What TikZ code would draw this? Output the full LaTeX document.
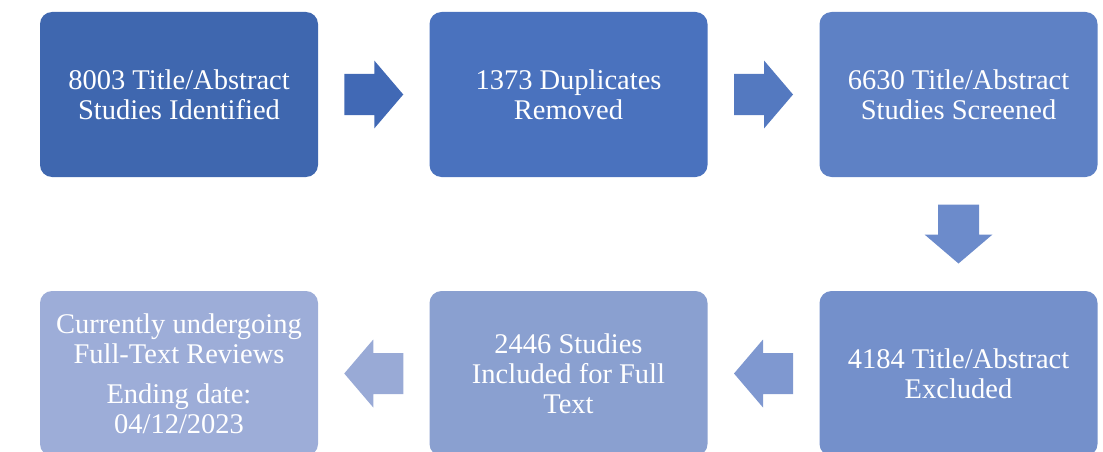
\documentclass[tikz,border=0pt]{standalone}
\usepackage{fontspec}
\setmainfont{Liberation Serif}
\usetikzlibrary{calc}
\definecolor{stepA}{HTML}{3F67AF}
\definecolor{stepB}{HTML}{4A72BE}
\definecolor{stepC}{HTML}{5E81C5}
\definecolor{stepD}{HTML}{7490CB}
\definecolor{stepE}{HTML}{8AA0D0}
\definecolor{stepF}{HTML}{9DADD8}
\definecolor{arrA}{HTML}{4169B5}
\definecolor{arrB}{HTML}{5479C0}
\definecolor{arrC}{HTML}{6C8BCB}
\definecolor{arrD}{HTML}{7F98D0}
\definecolor{arrE}{HTML}{99AAD6}

\begin{document}
\begin{tikzpicture}[x=1pt, y=-1pt,
    stepbox/.style={rectangle, rounded corners=12pt, minimum width=278pt, minimum height=165pt,
      text=white, align=center, inner sep=0pt, font=\fontsize{28.5}{30}\selectfont},
    blockarrow/.pic={
      \path[pic actions] (-29.5,-20.5) -- (0.5,-20.5) -- (0.5,-34) -- (29.5,0)
        -- (0.5,34) -- (0.5,20.5) -- (-29.5,20.5) -- cycle;
    }]
    \useasboundingbox (0,0) rectangle (1103,452);
    % top row
    \node[stepbox, fill=stepA] (ident) at (179, 94.5) {8003 Title/Abstract\\Studies Identified};
    \node[stepbox, fill=stepB] (dupl) at (568.5, 94.5) {1373 Duplicates\\Removed};
    \node[stepbox, fill=stepC] (screen) at (958.5, 94.5) {6630 Title/Abstract\\Studies Screened};
    % bottom row
    \node[stepbox, fill=stepD] (excl) at (958.5, 373.5) {4184 Title/Abstract\\Excluded};
    \node[stepbox, fill=stepE] (incl) at (568.5, 373.5) {2446 Studies\\Included for Full\\Text};
    \node[stepbox, fill=stepF] (review) at (179, 373.5) {Currently undergoing\\Full-Text Reviews\\[10pt]Ending date:\\04/12/2023};
    % block arrows
    \pic[fill=arrA] at ($(ident.east)!0.5!(dupl.west)$) {blockarrow};
    \pic[fill=arrB] at ($(dupl.east)!0.5!(screen.west)$) {blockarrow};
    \pic[fill=arrC, rotate=-90] at ($(screen.south)!0.5!(excl.north)$) {blockarrow};
    \pic[fill=arrD, rotate=180] at ($(excl.west)!0.5!(incl.east)$) {blockarrow};
    \pic[fill=arrE, rotate=180] at ($(incl.west)!0.5!(review.east)$) {blockarrow};
  \end{tikzpicture}
\end{document}
